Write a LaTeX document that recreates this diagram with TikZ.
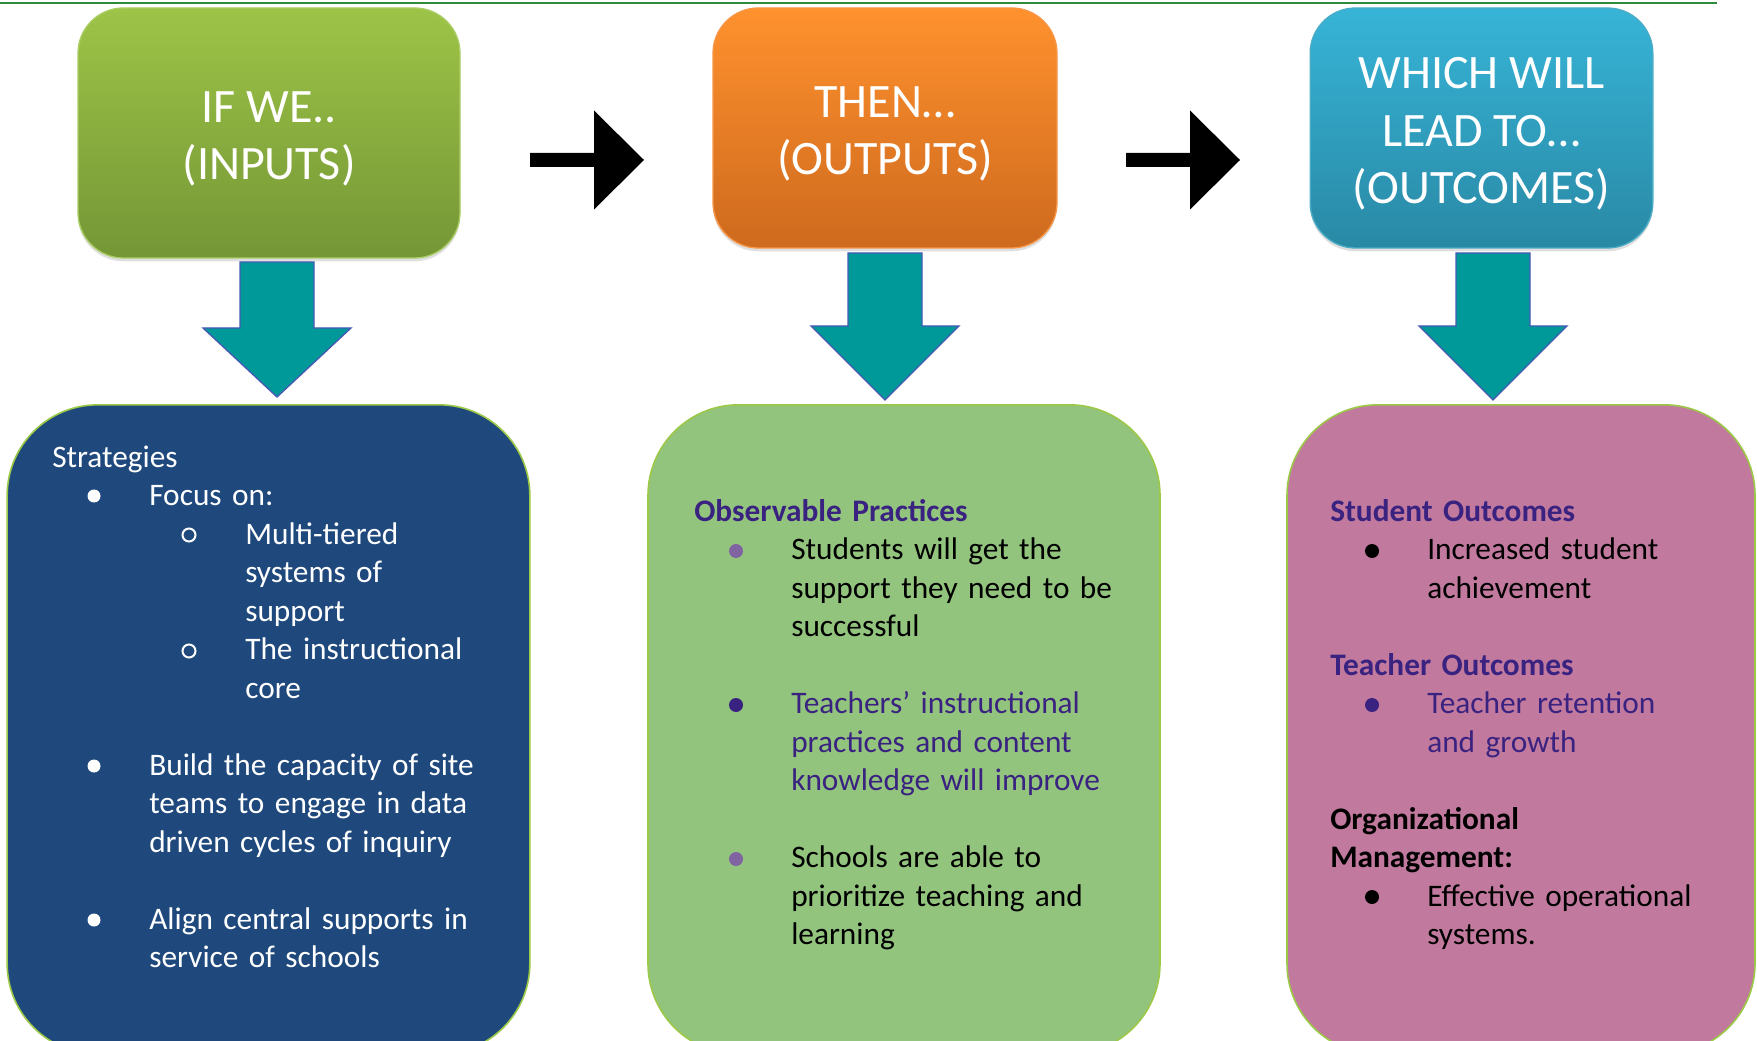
\documentclass[tikz,border=0pt]{standalone}
\usepackage{fontspec}
\setmainfont{Carlito}
\usetikzlibrary{shadows}
\definecolor{rulegreen}{RGB}{46,139,58}
\definecolor{inptop}{RGB}{157,196,71}
\definecolor{inpbot}{RGB}{117,150,54}
\definecolor{inpedge}{RGB}{170,205,100}
\definecolor{outtop}{RGB}{255,145,46}
\definecolor{outbot}{RGB}{206,106,30}
\definecolor{outedge}{RGB}{247,150,70}
\definecolor{ouctop}{RGB}{55,180,215}
\definecolor{oucbot}{RGB}{41,137,165}
\definecolor{oucedge}{RGB}{75,172,198}
\definecolor{tealfill}{RGB}{0,153,153}
\definecolor{tealedge}{RGB}{70,90,180}
\definecolor{stratblue}{RGB}{31,73,125}
\definecolor{pracgreen}{RGB}{146,196,125}
\definecolor{outcpink}{RGB}{193,122,158}
\definecolor{boxedge}{RGB}{155,200,70}
\definecolor{darkpurple}{RGB}{58,34,128}
\definecolor{lightpurple}{RGB}{128,100,162}
\begin{document}
\begin{tikzpicture}[x=0.75pt,y=0.75pt,yscale=-1,xscale=1,
  topbox/.style={rounded corners=34pt, line width=1pt,
    drop shadow={opacity=0.25, shadow xshift=0pt, shadow yshift=-2.5pt}},
  toptext/.style={align=center, text=white, inner sep=0pt, font=\fontsize{36}{43}\selectfont},
  lowbox/.style={rounded corners=68pt, draw=boxedge, line width=1.2pt},
  txt/.style={font=\fontsize{23.5}{28.9}\selectfont, inner sep=0pt, anchor=base west, align=left, text width=270pt},
  hdr/.style={txt, font=\fontsize{23.5}{28.9}\selectfont\bfseries},
  tealarrow/.style={fill=tealfill, draw=tealedge, line width=1pt}]
\useasboundingbox (0,0) rectangle (1757,1041);
\draw [rulegreen, line width=1.5pt] (0,3) -- (1717,3) ;

\node [topbox, minimum width=286.5pt, minimum height=187.5pt, top color=inptop, bottom color=inpbot, draw=inpedge] (inputs) at (269,133) {};
\node [toptext] (inputstext) at (269,139) {IF WE..\\(INPUTS)};
\node [topbox, minimum width=258pt, minimum height=180pt, top color=outtop, bottom color=outbot, draw=outedge] (outputs) at (885,128) {};
\node [toptext] (outputstext) at (885,134) {THEN…\\(OUTPUTS)};
\node [topbox, minimum width=257pt, minimum height=180pt, top color=ouctop, bottom color=oucbot, draw=oucedge] (outcomes) at (1481.5,128) {};
\node [toptext] (outcomestext) at (1481.5,134) {WHICH WILL\\LEAD TO…\\(OUTCOMES)};

\coordinate (r1) at (530,160);
\coordinate (r2) at (1126,160);
\foreach \c in {r1,r2}
  \fill (\c) ++(0,-7) -- ++(64,0) -- ++(0,-42.5) -- ++(50,49.5) -- ++(-50,49.5) -- ++(0,-42.5) -- ++(-64,0) -- cycle ;

\coordinate (d1) at (277,262);
\coordinate (d2) at (885,253);
\coordinate (d3) at (1493,253);
\foreach \c/\s/\h in {d1/66/69, d2/73/74, d3/73/74}
  \draw [tealarrow] (\c) ++(-37,0) -- ++(74,0) -- ++(0,\s) -- ++(37,0) -- ++(-74,\h) -- ++(-74,-\h) -- ++(37,0) -- cycle ;

\node [lowbox, fill=stratblue, minimum width=392pt, minimum height=487pt] (strat) at (268.5,729.5) {};
\node [lowbox, fill=pracgreen, minimum width=384pt, minimum height=487pt] (pract) at (904,729.5) {};
\node [lowbox, fill=outcpink, minimum width=351pt, minimum height=487pt] (outc) at (1521,729.5) {};

\node [txt, text=white] (strathead) at (52,467) {Strategies};
\fill [white] (94,496) circle (6.5) ;
\node [txt, text=white] (focus) at (149,505.5) {Focus on:};
\draw [white, line width=1.5pt] (189,535) circle (6.5) ;
\node [txt, text=white] (multi) at (245,544) {Multi-tiered\\systems of\\support};
\draw [white, line width=1.5pt] (189,651) circle (6.5) ;
\node [txt, text=white] (core) at (245,659.5) {The instructional\\core};
\fill [white] (94,766) circle (6.5) ;
\node [txt, text=white] (build) at (149,775) {Build the capacity of site\\teams to engage in data\\driven cycles of inquiry};
\fill [white] (94,920) circle (6.5) ;
\node [txt, text=white] (align) at (149,929) {Align central supports in\\service of schools};

\node [hdr, text=darkpurple] (prachead) at (694,521) {Observable Practices};
\fill [lightpurple] (736,551) circle (7) ;
\node [txt] (p1) at (791,559.5) {Students will get the\\support they need to be\\successful};
\fill [darkpurple] (736,705) circle (7) ;
\node [txt, text=darkpurple] (p2) at (791,713.5) {Teachers’ instructional\\practices and content\\knowledge will improve};
\fill [lightpurple] (736,859) circle (7) ;
\node [txt] (p3) at (791,867.5) {Schools are able to\\prioritize teaching and\\learning};

\node [hdr, text=darkpurple] (stuhead) at (1330,521) {Student Outcomes};
\fill (1372,551) circle (7) ;
\node [txt] (o1) at (1427,559.5) {Increased student\\achievement};
\node [hdr, text=darkpurple] (teahead) at (1330,675) {Teacher Outcomes};
\fill [darkpurple] (1372,705) circle (7) ;
\node [txt, text=darkpurple] (o2) at (1427,713.5) {Teacher retention\\and growth};
\node [hdr] (orghead) at (1330,829) {Organizational\\Management:};
\fill (1372,897) circle (7) ;
\node [txt] (o3) at (1427,906) {Effective operational\\systems.};
\end{tikzpicture}
\end{document}
